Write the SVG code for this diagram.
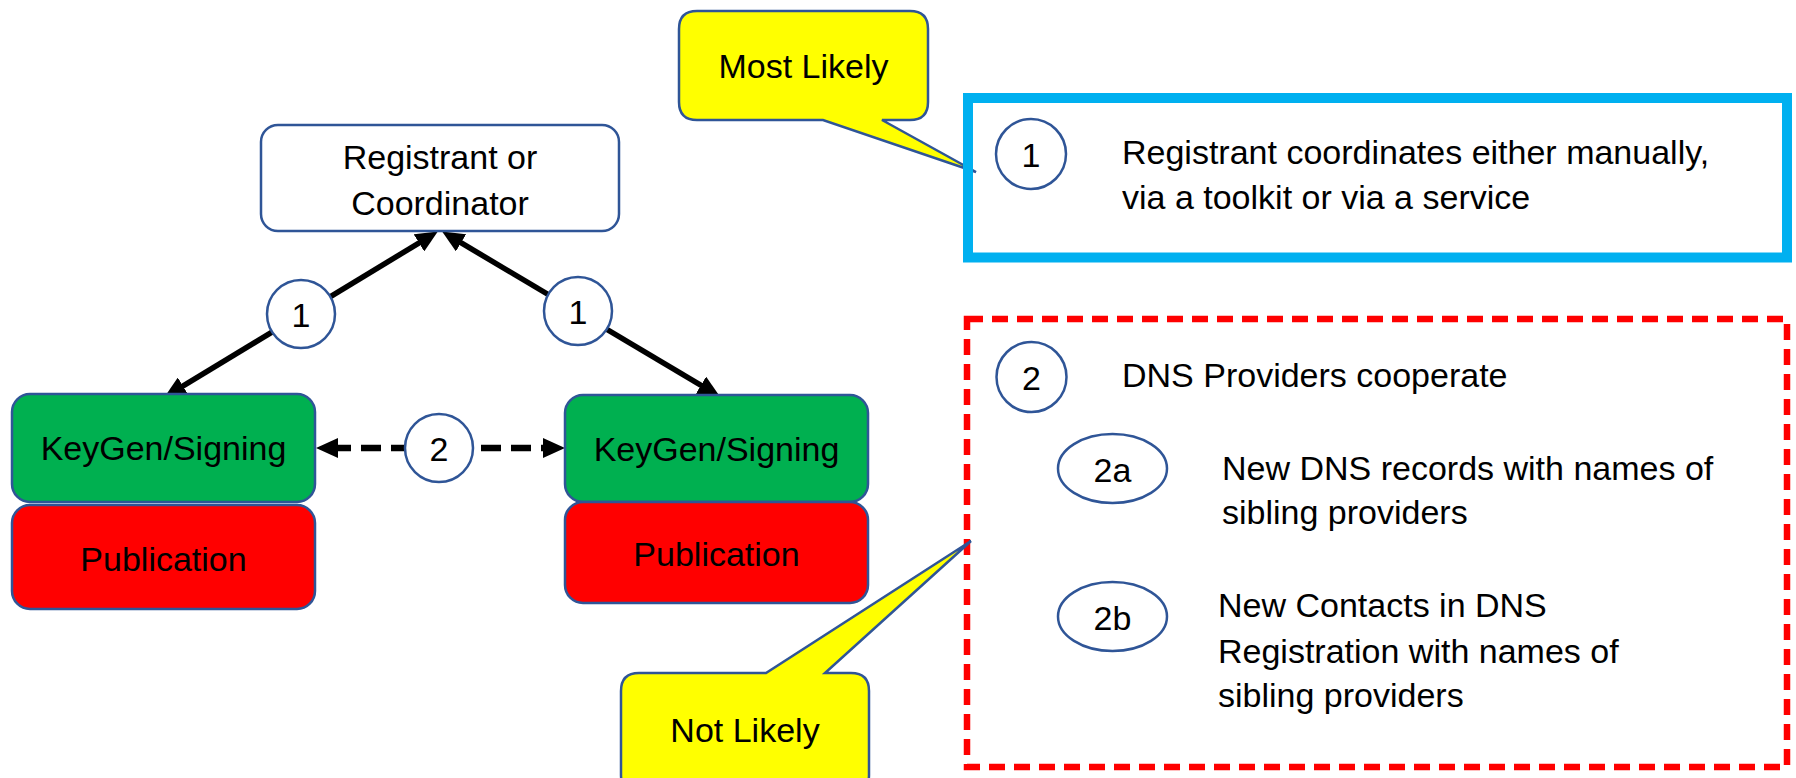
<svg xmlns="http://www.w3.org/2000/svg" width="1796" height="778" viewBox="0 0 1796 778">
  <style>
    text { font-family: "Liberation Sans", Arial, sans-serif; font-size: 34px; fill: #000; }
    .mid { text-anchor: middle; }
    .node { stroke: #2F5597; stroke-width: 2.5; }
    .badge { fill: #fff; stroke: #2F5597; stroke-width: 2.5; }
    .callout { fill: #FFFF00; stroke: #2F5597; stroke-width: 2.5; stroke-linejoin: miter; }
    .conn { stroke: #000; stroke-width: 5.5; fill: none; }
    .dash { stroke: #000; stroke-width: 6.5; fill: none; stroke-dasharray: 20 10; }
  </style>
  <defs>
    <marker id="arrow" viewBox="0 0 22 20" refX="7" refY="10" markerWidth="22" markerHeight="20" markerUnits="userSpaceOnUse" orient="auto-start-reverse">
      <path d="M0,0 L22,10 L0,20 Z" fill="#000"/>
    </marker>
  </defs>
  <rect width="1796" height="778" fill="#fff"/>

  <g id="connectors">
    <path class="conn" d="M177,389.7 L425,239.3" marker-start="url(#arrow)" marker-end="url(#arrow)"/>
    <path class="conn" d="M455,239.2 L707,388.8" marker-start="url(#arrow)" marker-end="url(#arrow)"/>
    <path class="dash" d="M331,448 L550,448" marker-start="url(#arrow)" marker-end="url(#arrow)"/>
  </g>

  <g id="registrant">
    <rect class="node" x="261" y="125" width="358" height="106" rx="17" fill="#fff"/>
    <text class="mid" x="440" y="169">Registrant or</text>
    <text class="mid" x="440" y="215">Coordinator</text>
  </g>

  <g id="keygen-left">
    <rect class="node" x="12" y="394" width="303" height="108" rx="18" fill="#00B050"/>
    <text class="mid" x="163.5" y="460">KeyGen/Signing</text>
  </g>
  <g id="publication-left">
    <rect class="node" x="12" y="505" width="303" height="104" rx="18" fill="#FF0000"/>
    <text class="mid" x="163.5" y="571">Publication</text>
  </g>

  <g id="keygen-right">
    <rect class="node" x="565" y="395" width="303" height="107" rx="18" fill="#00B050"/>
    <text class="mid" x="716.5" y="461">KeyGen/Signing</text>
  </g>
  <g id="publication-right">
    <rect class="node" x="565" y="502" width="303" height="101" rx="18" fill="#FF0000"/>
    <text class="mid" x="716.5" y="566">Publication</text>
  </g>

  <g id="badge-left-1">
    <circle class="badge" cx="301" cy="314" r="34"/>
    <text class="mid" x="301" y="327">1</text>
  </g>
  <g id="badge-right-1">
    <circle class="badge" cx="578" cy="311" r="34"/>
    <text class="mid" x="578" y="324">1</text>
  </g>
  <g id="badge-2">
    <circle class="badge" cx="439" cy="448" r="34"/>
    <text class="mid" x="439" y="461">2</text>
  </g>

  <g id="most-likely">
    <path class="callout" d="M697,11 H910 Q928,11 928,29 V102 Q928,120 910,120 H882 L976,172 L823,120 H697 Q679,120 679,102 V29 Q679,11 697,11 Z"/>
    <text class="mid" x="803.5" y="78">Most Likely</text>
  </g>

  <g id="box-1">
    <rect x="968" y="98" width="819" height="159.5" fill="none" stroke="#00B0F0" stroke-width="10"/>
    <circle class="badge" cx="1031" cy="154" r="35"/>
    <text class="mid" x="1031" y="167">1</text>
    <text x="1122" y="164">Registrant coordinates either manually,</text>
    <text x="1122" y="209">via a toolkit or via a service</text>
  </g>

  <g id="box-2">
    <rect x="967" y="319" width="820" height="448" fill="none" stroke="#FF0000" stroke-width="6.5" stroke-dasharray="16 9"/>
    <ellipse class="badge" cx="1031.5" cy="377" rx="35" ry="35"/>
    <text class="mid" x="1031.5" y="390">2</text>
    <text x="1122" y="387">DNS Providers cooperate</text>
    <ellipse class="badge" cx="1112.5" cy="468.5" rx="54.5" ry="34.5"/>
    <text class="mid" x="1112.5" y="482">2a</text>
    <text x="1222" y="480">New DNS records with names of</text>
    <text x="1222" y="524">sibling providers</text>
    <ellipse class="badge" cx="1112.5" cy="616.5" rx="54.5" ry="34.5"/>
    <text class="mid" x="1112.5" y="630">2b</text>
    <text x="1218" y="617">New Contacts in DNS</text>
    <text x="1218" y="663">Registration with names of</text>
    <text x="1218" y="707">sibling providers</text>
  </g>

  <g id="not-likely">
    <path class="callout" d="M639,673 H766 L971,541 L825,673 H851 Q869,673 869,691 V775 Q869,793 851,793 H639 Q621,793 621,775 V691 Q621,673 639,673 Z"/>
    <text class="mid" x="745" y="742">Not Likely</text>
  </g>
</svg>
